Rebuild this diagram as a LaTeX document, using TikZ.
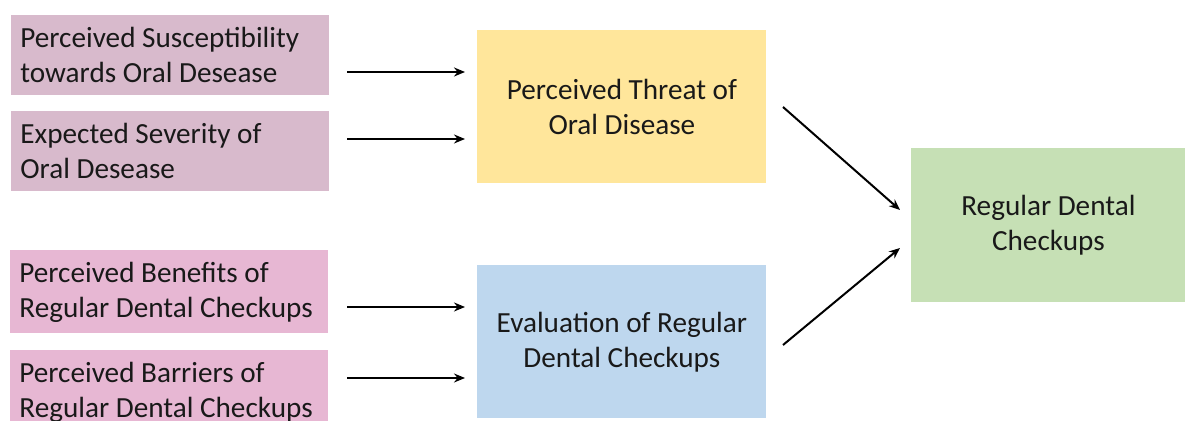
\documentclass[tikz,border=0pt]{standalone}
\usepackage{fontspec}
\setmainfont{Carlito}
\usepackage{tikz}
\usetikzlibrary{arrows.meta,calc}

\definecolor{mauvebox}{RGB}{216,186,204}
\definecolor{pinkbox}{RGB}{231,183,211}
\definecolor{threatbox}{RGB}{255,230,155}
\definecolor{evalbox}{RGB}{190,215,238}
\definecolor{checkbox}{RGB}{198,224,181}
\definecolor{txt}{RGB}{25,25,25}

\tikzset{
  factor/.style={anchor=north west, inner xsep=4.5pt, inner ysep=0pt, text width=150pt,
    minimum height=40pt, align=flush left, text=txt,
    font=\fontsize{14.6pt}{17.5pt}\selectfont},
  midbox/.style={anchor=north west, inner sep=0pt, minimum width=144.5pt, minimum height=76.5pt,
    align=center, text=txt, font=\fontsize{14.6pt}{17.5pt}\selectfont},
  arr/.style={line width=1pt, -{Stealth[length=5.5pt,width=4.5pt]}}
}

\begin{document}
\begin{tikzpicture}[x=0.5pt,y=-0.5pt]

        \useasboundingbox (0,0) rectangle (1186,421);
        \clip (0,0) rectangle (1186,421);

        \node [factor, fill=mauvebox] (sus) at (11,15) {Perceived Susceptibility\\towards Oral Desease};
        \node [factor, fill=mauvebox] (sev) at (11,111) {Expected Severity of\\Oral Desease};
        \node [factor, fill=pinkbox, minimum height=41.5pt] (ben) at (10,250) {Perceived Benefits of\\Regular Dental Checkups};
        \node [factor, fill=pinkbox, minimum height=41.5pt] (bar) at (10,350) {Perceived Barriers of\\Regular Dental Checkups};

        \node [midbox, fill=threatbox] (threat) at (477,30) {Perceived Threat of\\Oral Disease};
        \node [midbox, fill=evalbox] (eval) at (477,265) {Evaluation of Regular\\Dental Checkups};
        \node [midbox, fill=checkbox, minimum width=137pt, minimum height=77pt] (check) at (911,148) {Regular Dental\\Checkups};

        \coordinate (s1) at (347,72);
        \coordinate (s2) at (347,139);
        \coordinate (s3) at (347,307);
        \coordinate (s4) at (347,378);
        \draw [arr, shorten >=6pt] (s1) -- (s1 -| threat.west);
        \draw [arr, shorten >=6pt] (s2) -- (s2 -| threat.west);
        \draw [arr, shorten >=6pt] (s3) -- (s3 -| eval.west);
        \draw [arr, shorten >=6pt] (s4) -- (s4 -| eval.west);

        \coordinate (d1) at (783,107);
        \coordinate (d2) at (783,345);
        \coordinate (e1) at (900,210);
        \coordinate (e2) at (900,248);
        \draw [arr] (d1) -- (e1);
        \draw [arr] (d2) -- (e2);
\end{tikzpicture}
\end{document}
